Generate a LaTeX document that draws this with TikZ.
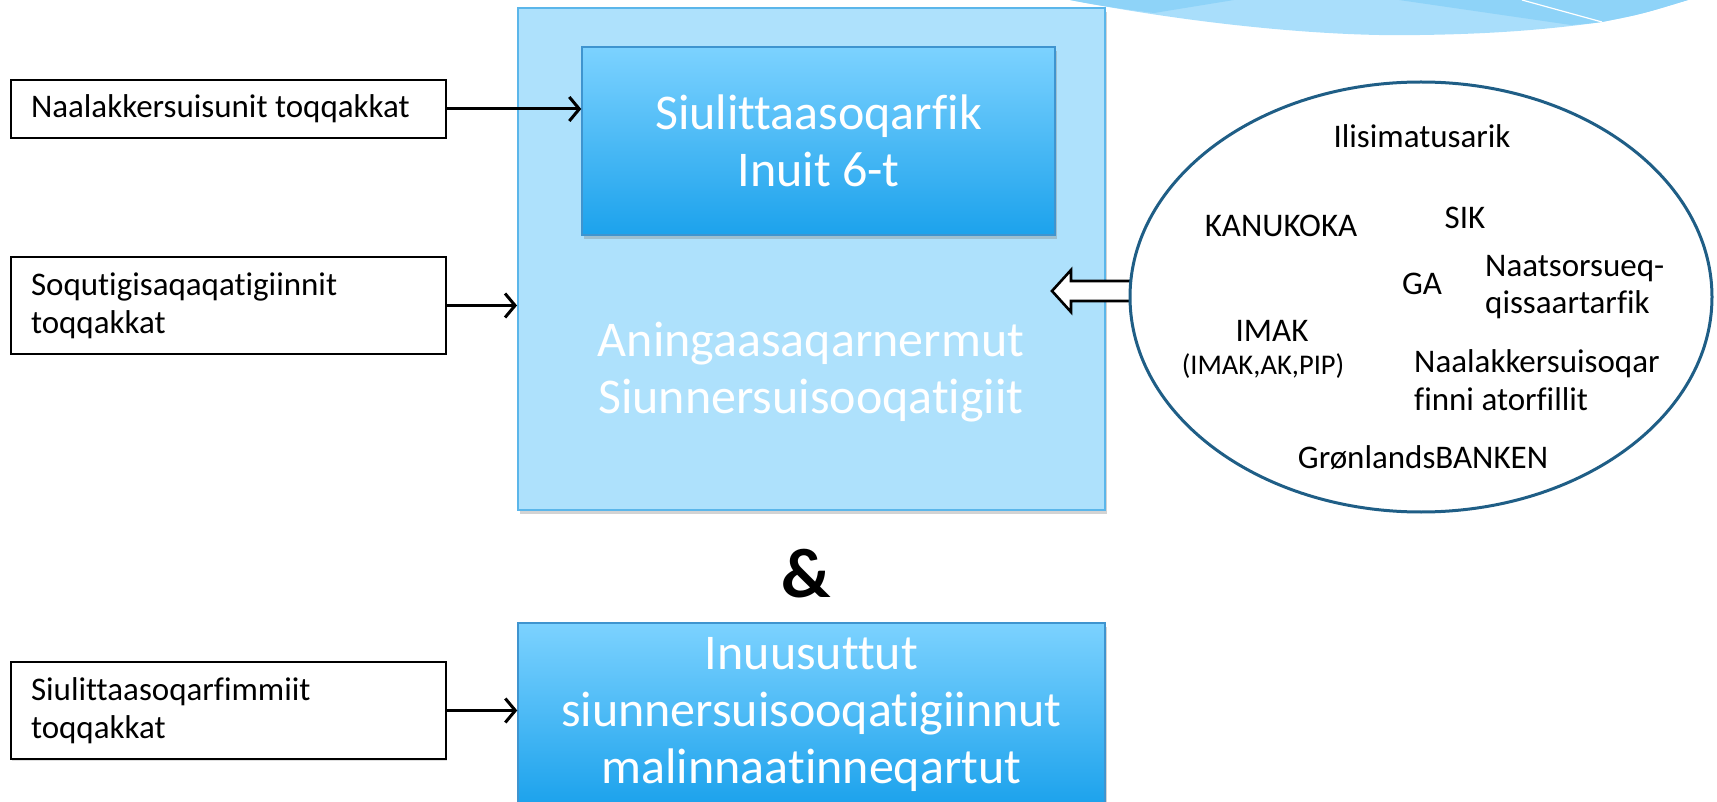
\documentclass[tikz,border=0pt]{standalone}
\usepackage{fontspec}
\setmainfont{Carlito}[Ligatures={NoCommon}]
\usetikzlibrary{arrows.meta,shadows,shapes.geometric}
\definecolor{boxlight}{HTML}{AEE1FC}
\definecolor{boxedge}{HTML}{5BB6EA}
\definecolor{gradtop}{HTML}{7CD2FF}
\definecolor{gradbot}{HTML}{1CA2EC}
\definecolor{inneredge}{HTML}{3F94CF}
\definecolor{elledge}{HTML}{1F5E86}
\definecolor{swdark}{HTML}{8ED3F8}
\definecolor{swlight}{HTML}{A9DEFB}
\tikzset{
  srcbox/.style={draw=black, line width=1.6pt, fill=white, text width=395pt,
    inner xsep=20pt, inner ysep=0pt, align=flush left, minimum width=435pt,
    font=\fontsize{33}{38}\selectfont, drop shadow={shadow xshift=1pt, shadow yshift=-1.5pt, opacity=0.25}},
  bluebox/.style={draw=inneredge, line width=1.5pt, top color=gradtop, bottom color=gradbot,
    text=white, align=center, inner sep=0pt, font=\fontsize{50}{57}\selectfont,
    drop shadow={shadow xshift=2pt, shadow yshift=-4pt, opacity=0.35}},
  bigbox/.style={draw=boxedge, line width=2pt, fill=boxlight, inner sep=0pt,
    drop shadow={shadow xshift=2pt, shadow yshift=-4pt, opacity=0.35}},
  conn/.style={line width=3pt, -{Straight Barb[length=10pt,width=24pt]}},
  elltext/.style={font=\fontsize{33}{38}\selectfont, inner sep=0pt, anchor=base},
  elltextl/.style={elltext, anchor=base west}
}
\begin{document}
\begin{tikzpicture}[x=1pt,y=-1pt]
\useasboundingbox (0,0) rectangle (1717,802);
% top right swoosh
\fill[swlight] (1070,0) .. controls (1200,25) and (1330,37) .. (1420,35)
  .. controls (1490,34) and (1545,30) .. (1602,22) .. controls (1642,14) .. (1688,0) -- cycle;
\fill[swdark] (1070,0) .. controls (1100,6) and (1130,10) .. (1154,13) -- (1234,0) -- cycle;
\fill[swdark] (1399,0) -- (1571,25) .. controls (1585,24) .. (1602,22) .. controls (1642,14) .. (1688,0) -- cycle;
\draw[white, line width=1.2pt] (1522,0) -- (1602,22);

% main boxes
\node[bigbox, minimum width=587pt, minimum height=502pt] (big) at (811.5,259) {};
\node[bluebox, minimum width=473pt, minimum height=188pt] (inner) at (818.5,141)
  {Siulittaasoqarfik\\Inuit 6-t};
\node[text=white, align=center, inner sep=0pt, font=\fontsize{50}{57}\selectfont] (bigtext) at (811,372)
  {Aningaasaqarnermut\\Siunnersuisooqatigiit};
\node[bluebox, minimum width=587pt, minimum height=182pt] (bottom) at (811.5,714)
  {Inuusuttut\\siunnersuisooqatigiinnut\\malinnaatinneqartut};

% ampersand
\node[font=\fontsize{70}{74}\selectfont\bfseries, inner sep=0pt] (amp) at (806,574) {\&};

% left source boxes
\node[srcbox, minimum height=58pt] (s1) at (228.5,109) {Naalakkersuisunit toqqakkat};
\node[srcbox, minimum height=97pt] (s2) at (228.5,305.5) {Soqutigisaqaqatigiinnit\\toqqakkat};
\node[srcbox, minimum height=97pt] (s3) at (228.5,710.5) {Siulittaasoqarfimmiit\\toqqakkat};

\draw[conn] (s1.east) -- (s1.east -| inner.west);
\draw[conn] (s2.east) -- (s2.east -| big.west);
\draw[conn] (s3.east) -- (s3.east -| bottom.west);

% ellipse and block arrow
\coordinate (ellw) at (1130,297);
\draw[line width=2.6pt, fill=white, line join=miter]
  (ellw) ++(15,-16) -- ++(-74,0) -- ++(0,-11) -- ++(-19,21) -- ++(19,21) -- ++(0,-11) -- ++(74,0);
\node[draw=elledge, line width=3pt, ellipse, fill=white, minimum width=582pt, minimum height=430pt,
  inner sep=0pt] (ell) at (1421,297) {};

\node[elltext] (t1) at (1422,148) {Ilisimatusarik};
\node[elltext] (t2) at (1281,237) {KANUKOKA};
\node[elltext] (t3) at (1465,229) {SIK};
\node[elltext] (t4) at (1422,295) {GA};
\node[elltextl] (t5) at (1485,277) {Naatsorsueq-};
\node[elltextl] (t5b) at (1485,314) {qissaartarfik};
\node[elltext] (t6) at (1272,342) {IMAK};
\node[elltext, font=\fontsize{28.5}{32}\selectfont] (t6b) at (1263,375) {(IMAK,AK,PIP)};
\node[elltextl] (t7) at (1414,373) {Naalakkersuisoqar};
\node[elltextl] (t7b) at (1414,410) {finni atorfillit};
\node[elltext] (t8) at (1423,468) {GrønlandsBANKEN};
\end{tikzpicture}
\end{document}
